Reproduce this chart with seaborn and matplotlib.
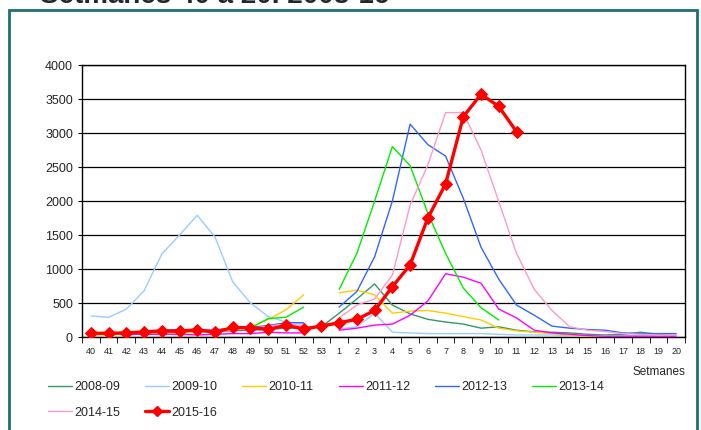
"""Weekly cases per season, weeks 40 to 20."""

import matplotlib
matplotlib.use("Agg")

import matplotlib.pyplot as plt
import numpy as np
import pandas as pd
import seaborn as sns
from matplotlib.lines import Line2D
from matplotlib.patches import Rectangle

nan = np.nan

weeks = [str(w) for w in list(range(40, 54)) + list(range(1, 21))]

s_2008_09 = [50, 50, 55, 60, 70, 70, 80, 80, 90, 100, 110, 130, 130, 150,
             350, 560, 780, 470, 340, 260, 220, 190, 130, 150, 100, 75, 70, 60,
             40, 30, 40, 70, 40, 20]
s_2009_10 = [310, 290, 410, 680, 1220, 1500, 1790, 1470, 810, 500, 300, 220, 200, nan,
             120, 150, 350, 70, 60, 50, 50, 50, 50, 40, 30, 30, 30, 20,
             20, 20, 20, 20, 20, 20]
s_2010_11 = [30, 30, 40, 50, 60, 60, 70, 80, 100, 150, 260, 400, 620, nan,
             650, 690, 620, 350, 380, 390, 350, 300, 250, 130, 90, 70, 50, 30,
             10, 10, 5, 5, 5, 5]
s_2011_12 = [40, 40, 40, 40, 40, 40, 30, 40, 50, 50, 70, 60, 60, nan,
             100, 130, 175, 190, 320, 530, 930, 880, 790, 410, 280, 100, 60, 40,
             20, 10, 10, 10, 10, 10]
s_2012_13 = [50, 50, 60, 80, 100, 110, 110, 110, 120, 140, 170, 210, 210, nan,
             440, 670, 1180, 2000, 3130, 2830, 2660, 2040, 1320, 850, 470, 320, 160, 130,
             110, 100, 60, 50, 50, 50]
s_2013_14 = [50, 50, 60, 80, 80, 80, 90, 100, 130, 130, 270, 290, 440, nan,
             700, 1230, 2000, 2800, 2520, 1820, 1230, 720, 430, 250, nan, nan, nan, nan,
             nan, nan, nan, nan, nan, nan]
s_2014_15 = [40, 40, 50, 60, 80, 90, 100, 100, 110, 120, 160, 190, 170, nan,
             280, 470, 560, 910, 1940, 2530, 3300, 3300, 2750, 1990, 1230, 700, 390, 150,
             100, 80, 50, 40, 30, 30]
s_2015_16 = [55, 55, 60, 75, 90, 85, 105, 70, 140, 135, 115, 170, 120, 160,
             210, 260, 390, 740, 1060, 1750, 2250, 3240, 3570, 3390, 3020, nan, nan, nan,
             nan, nan, nan, nan, nan, nan]

seasons = ["2008-09", "2009-10", "2010-11", "2011-12",
           "2012-13", "2013-14", "2014-15", "2015-16"]
values = [s_2008_09, s_2009_10, s_2010_11, s_2011_12,
          s_2012_13, s_2013_14, s_2014_15, s_2015_16]
colors = ["#339966", "#99CCFF", "#FFCC00", "#FF00FF",
          "#3366FF", "#00EE00", "#FF99CC", "#FF0000"]


def segments(vals):
    """Split a series on missing weeks so the line is not bridged."""
    seg = []
    for i, v in enumerate(vals):
        if np.isnan(v):
            if seg:
                yield seg
            seg = []
        else:
            seg.append((i, v))
    if seg:
        yield seg


sns.set_style("white")
plt.rcParams["font.family"] = ["Liberation Sans", "DejaVu Sans"]

fig = plt.figure(figsize=(7.01, 4.30), dpi=100)
ax = fig.add_axes([82 / 701, 93 / 430, 603 / 701, 272 / 430])

for name, vals, color in zip(seasons, values, colors):
    is_current = name == "2015-16"
    for seg in segments(vals):
        df = pd.DataFrame(seg, columns=["pos", "cases"])
        sns.lineplot(
            data=df, x="pos", y="cases", ax=ax, color=color,
            lw=2.4 if is_current else 1.0,
            marker="D" if is_current else None,
            markersize=6, markeredgecolor=color,
            zorder=5 if is_current else 3,
        )

ax.set_xlim(-0.5, len(weeks) - 0.5)
ax.set_ylim(0, 4000)
ax.set_yticks(np.arange(0, 4001, 500))
ax.tick_params(axis="y", labelsize=9, length=3, color="black", direction="out", left=True)
ax.set_xticks(range(len(weeks)))
ax.set_xticklabels(weeks, fontsize=6.5)
ax.set_xticks(np.arange(-0.5, len(weeks), 1), minor=True)
ax.tick_params(axis="x", which="major", length=0, pad=7)
ax.tick_params(axis="x", which="minor", length=4, color="black", direction="out", bottom=True)
ax.set_xlabel("")
ax.set_ylabel("")
ax.grid(axis="y", color="black", lw=0.9)
ax.set_axisbelow(True)
for sp in ax.spines.values():
    sp.set_color("black")
    sp.set_linewidth(1.0)

fig.text(685 / 701, 1 - 372 / 430, "Setmanes", fontsize=8.5, ha="right", va="center")

handles = [
    Line2D([], [], color=c, lw=2.4 if s == "2015-16" else 1.0,
           marker="D" if s == "2015-16" else None, markersize=5)
    for s, c in zip(seasons, colors)
]
# legend fills column by column; reorder so it reads row by row like the original
order = [0, 6, 1, 7, 2, 3, 4, 5]
fig.legend([handles[i] for i in order], [seasons[i] for i in order],
           loc="upper left", bbox_to_anchor=(48 / 701, 1 - 381 / 430),
           ncol=6, frameon=False, fontsize=9, handlelength=1.9, handletextpad=0.2,
           columnspacing=2.0, labelspacing=1.1, borderpad=0, borderaxespad=0)

fig.text(40 / 701, 1 - 3 / 430, "Setmanes 40 a 20. 2008-16", fontsize=20,
         fontweight="bold", ha="left", va="baseline")
fig.patches.append(Rectangle((9 / 701, -0.05), 688 / 701, 1.05 - 10 / 430,
                             transform=fig.transFigure, fill=False,
                             edgecolor="#1F7070", lw=2))

fig.savefig("out.png", dpi=100)
plt.close(fig)
